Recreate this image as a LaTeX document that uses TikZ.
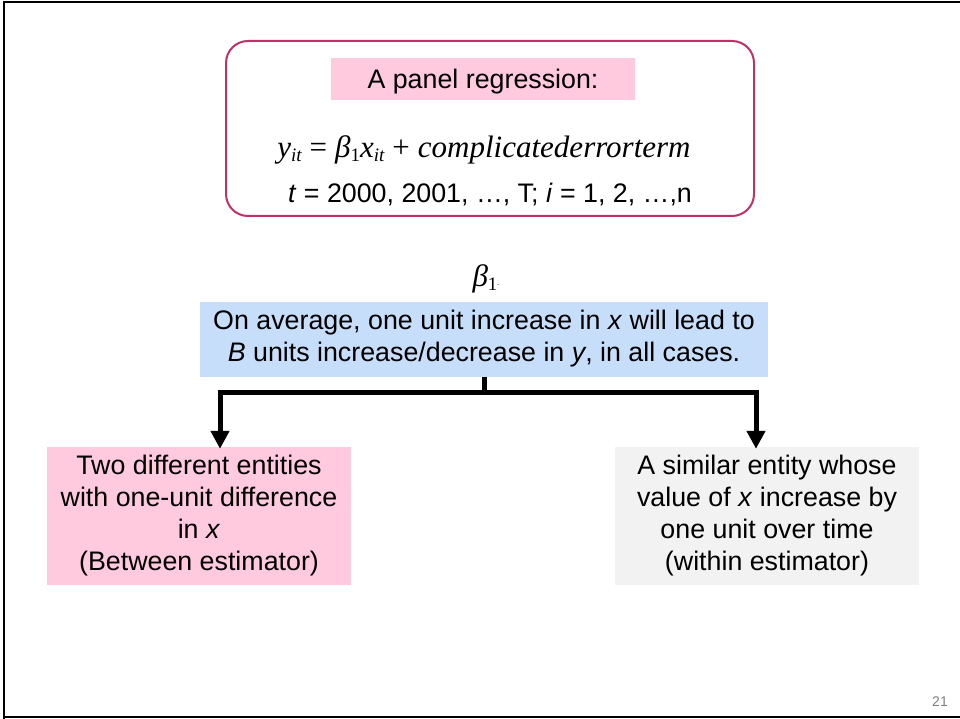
\documentclass[tikz,border=0pt]{standalone}
\usepackage{fontspec}
\setmainfont{Liberation Sans}
\newfontfamily\eqfont{Liberation Serif}
\usetikzlibrary{arrows.meta,positioning}
\definecolor{ink}{HTML}{000000}
\definecolor{frameRed}{HTML}{C0306A}
\definecolor{pinkFill}{HTML}{FFC9DE}
\definecolor{blueFill}{HTML}{C6DEFA}
\definecolor{greyFill}{HTML}{F2F2F2}
\definecolor{muted}{HTML}{7F7F7F}
\newcommand{\sub}[1]{\raisebox{-0.3ex}{\fontsize{19}{19}\selectfont #1}}
\newcommand{\op}[1]{\hspace{8pt}{\upshape #1}\hspace{8pt}}
\tikzset{
  base/.style={font=\fontsize{26.8}{32}\selectfont, text=ink},
  box/.style={base, align=center, inner sep=0pt},
  outerbox/.style={draw=frameRed, line width=2pt, rounded corners=22pt},
  labelbox/.style={box, fill=pinkFill, minimum width=304, minimum height=42, text height=26pt, text depth=6pt},
  meaning/.style={box, fill=blueFill, minimum width=568, minimum height=75},
  between/.style={box, fill=pinkFill, minimum width=304, minimum height=138},
  within/.style={box, fill=greyFill, minimum width=304, minimum height=138},
  formula/.style={font=\eqfont\itshape\fontsize{31}{34}\selectfont, text=ink, inner sep=0pt},
  arrow/.style={-{Triangle[length=18pt,width=18pt]}, line width=5pt, draw=ink},
  pagenum/.style={font=\fontsize{14}{16}\selectfont, text=muted, inner sep=0pt},
}
\begin{document}
\begin{tikzpicture}[x=1pt,y=-1pt]
  \useasboundingbox (0,0) rectangle (960,719);
  \draw[line width=2.5pt] (4,719) -- (4,2) -- (960,2);
  \draw[line width=2pt] (4,717) -- (960,717);

  \draw[outerbox] (226,41) rectangle (754,216);
  \node[labelbox] (title) at (483,79) {A panel regression:};
  \node[formula] (eq) at (484,150) {y\sub{it}\op{=}β\sub{\upshape 1}x\sub{it}\op{+}complicatederrorterm};
  \node[base, inner sep=0pt] (range) at (490,195) {\textit{t} = 2000, 2001, …, T; \textit{i} = 1, 2, …,n};

  \node[formula] (beta) at (486,279) {β\sub{\upshape 1}\raisebox{0.1ex}{\fontsize{8}{8}\selectfont.}};
  \node[meaning] (avg) at (484,339) {On average, one unit increase in \textit{x} will lead to\\\textit{B} units increase/decrease in \textit{y}, in all cases.};

  \node[between] (left) at (199,516) {Two different entities\\with one-unit difference\\in \textit{x}\\(Between estimator)};
  \node[within] (right) at (767,516) {A similar entity whose\\value of \textit{x} increase by\\one unit over time\\(within estimator)};

  \coordinate (split) at (484,392);
  \draw[line width=5pt] (avg.south) -- (split);
  \draw[arrow] (split) -| ([xshift=21pt,yshift=-2pt]left.north);
  \draw[arrow] (split) -| ([xshift=-11pt,yshift=-2pt]right.north);

  \node[pagenum] (page) at (940,702) {21};
\end{tikzpicture}
\end{document}
